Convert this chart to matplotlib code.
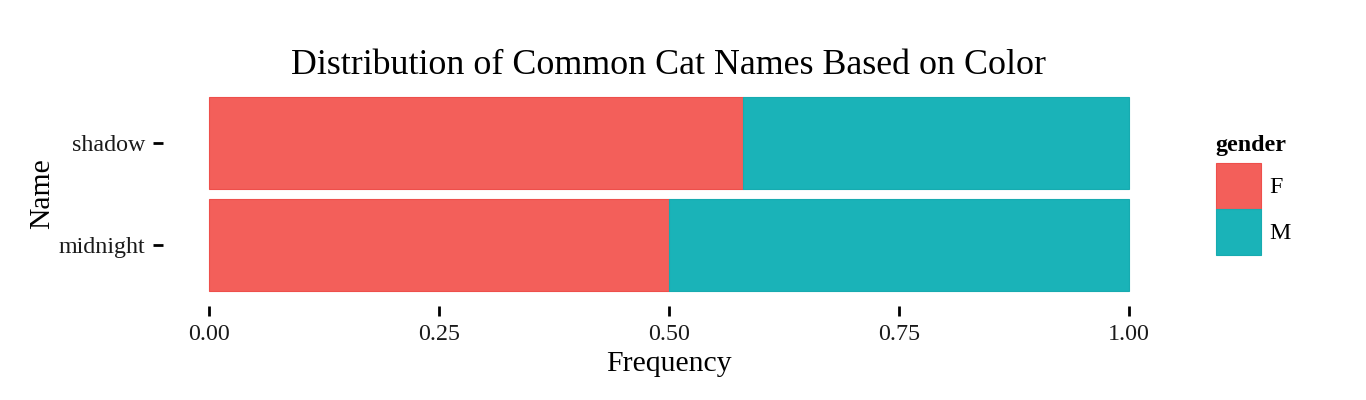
import matplotlib
matplotlib.use("Agg")
import matplotlib.pyplot as plt
from matplotlib.patches import Patch

names = ["midnight", "shadow"]
freq_F = [0.50, 0.58]
freq_M = [0.50, 0.42]
genders = ["F", "M"]
colors = {"F": "#F35F5A", "M": "#1AB3B8"}
edges = {"F": "#EE4F4B", "M": "#17ABB0"}
xticks = [0.00, 0.25, 0.50, 0.75, 1.00]
xticklabels = ["0.00", "0.25", "0.50", "0.75", "1.00"]

plt.rcParams['font.family'] = ['Liberation Serif', 'DejaVu Serif']

fig = plt.figure(figsize=(13.66, 4.0), dpi=100)
ax = fig.add_axes([0.1193, 0.234, 0.7409, 0.562])

ypos = list(range(1, len(names) + 1))
ax.barh(ypos, freq_F, height=0.9, color=colors["F"], edgecolor=edges["F"], linewidth=0.8)
ax.barh(ypos, freq_M, left=freq_F, height=0.9, color=colors["M"], edgecolor=edges["M"], linewidth=0.8)

ax.set_xlim(-0.05, 1.05)
ax.set_ylim(0.4, 2.6)
ax.set_yticks(ypos)
ax.set_yticklabels(names)
ax.set_xticks(xticks)
ax.set_xticklabels(xticklabels)
for s in ax.spines.values():
    s.set_visible(False)
ax.tick_params(axis='both', length=7, width=2, color='black', labelsize=17.3, labelcolor='#1a1a1a', pad=6)

ax.set_xlabel("Frequency", fontsize=21.4, labelpad=4)
ax.set_ylabel("Name", fontsize=21.4, labelpad=2.5)
ax.set_title("Distribution of Common Cat Names Based on Color", fontsize=25.8, pad=5.5)

handles = [Patch(facecolor=colors[g], edgecolor=edges[g], linewidth=0.8) for g in genders]
leg = fig.legend(handles, genders, title="gender", loc='upper left',
                 bbox_to_anchor=(0.874, 0.717), frameon=False,
                 handlelength=1.9, handleheight=2.57, handletextpad=0.35,
                 labelspacing=0.0, fontsize=17.3, title_fontproperties={'weight': 'bold', 'size': 17.3})
leg._legend_box.align = "left"
leg._legend_box.sep = 5

fig.savefig("out.png", dpi=100)
